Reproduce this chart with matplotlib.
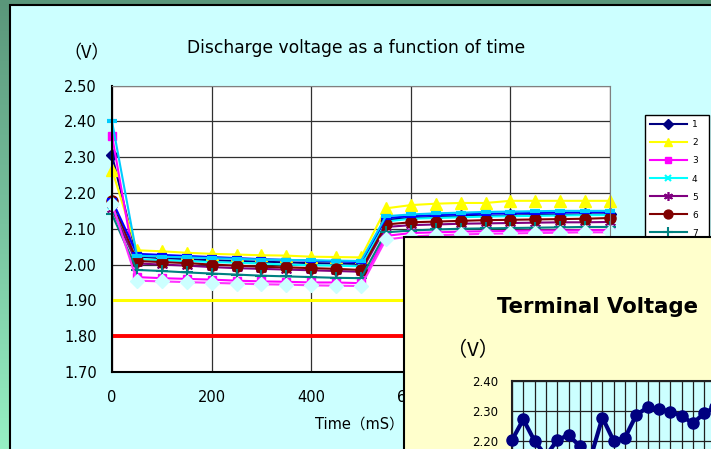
import numpy as np
import matplotlib
matplotlib.use('Agg')
import matplotlib.pyplot as plt
from matplotlib.patches import Rectangle
from matplotlib.colors import LinearSegmentedColormap

W, H = 711, 449
plt.rcParams['font.family'] = ['DejaVu Sans', 'Noto Sans CJK JP']
CJK = ['Noto Sans CJK JP', 'DejaVu Sans']

# ---------------- data ----------------
time_ms = [0, 50, 100, 150, 200, 250, 300, 350, 400, 450, 500,
           550, 600, 650, 700, 750, 800, 850, 900, 950, 1000]

s1 = [2.305, 2.022, 2.018, 2.015, 2.012, 2.010, 2.008, 2.006, 2.004, 2.003, 2.002,
      2.125, 2.130, 2.133, 2.135, 2.136, 2.137, 2.138, 2.139, 2.140, 2.140]
s2 = [2.265, 2.040, 2.037, 2.033, 2.030, 2.028, 2.026, 2.025, 2.022, 2.021, 2.020,
      2.157, 2.166, 2.170, 2.172, 2.172, 2.178, 2.178, 2.178, 2.178, 2.178]
s3 = [2.360, 1.965, 1.962, 1.960, 1.958, 1.955, 1.953, 1.952, 1.950, 1.950, 1.948,
      2.080, 2.088, 2.090, 2.092, 2.093, 2.094, 2.095, 2.095, 2.096, 2.096]
s4 = [2.165, 2.015, 2.012, 2.010, 2.007, 2.005, 2.003, 2.000, 1.998, 1.997, 1.995,
      2.120, 2.128, 2.130, 2.132, 2.134, 2.135, 2.136, 2.137, 2.138, 2.138]
s5 = [2.155, 2.003, 2.000, 1.997, 1.993, 1.990, 1.988, 1.986, 1.984, 1.982, 1.980,
      2.105, 2.110, 2.112, 2.114, 2.115, 2.116, 2.117, 2.118, 2.118, 2.119]
s6 = [2.178, 2.010, 2.007, 2.004, 2.000, 1.997, 1.994, 1.992, 1.990, 1.988, 1.985,
      2.112, 2.118, 2.120, 2.122, 2.124, 2.125, 2.126, 2.127, 2.128, 2.130]
s7 = [2.140, 1.985, 1.982, 1.978, 1.975, 1.972, 1.969, 1.967, 1.965, 1.963, 1.962,
      2.090, 2.095, 2.098, 2.100, 2.101, 2.102, 2.103, 2.104, 2.105, 2.105]
s8 = [2.180, 2.030, 2.027, 2.024, 2.021, 2.018, 2.015, 2.013, 2.011, 2.009, 2.007,
      2.130, 2.135, 2.138, 2.140, 2.142, 2.143, 2.144, 2.145, 2.146, 2.146]
s9 = [2.400, 2.025, 2.022, 2.020, 2.018, 2.016, 2.014, 2.013, 2.012, 2.011, 2.010,
      2.135, 2.140, 2.143, 2.145, 2.147, 2.148, 2.149, 2.150, 2.150, 2.150]
s10 = [2.170, 1.955, 1.953, 1.951, 1.949, 1.947, 1.945, 1.944, 1.942, 1.941, 1.940,
       2.070, 2.078, 2.082, 2.084, 2.086, 2.087, 2.088, 2.089, 2.090, 2.090]
series_values = [s1, s2, s3, s4, s5, s6, s7, s8, s9, s10]
series_labels = ['1', '2', '3', '4', '5', '6', '7', '8', '9', '10']
limit_values = [1.90, 1.80]

y_ticks = [1.70, 1.80, 1.90, 2.00, 2.10, 2.20, 2.30, 2.40, 2.50]
x_ticks = [0, 200, 400, 600, 800, 1000]

inset_categories = [1, 2, 3, 4, 5, 6, 7, 8, 9, 10, 11, 12, 13, 14, 15, 16, 17, 18, 19]
inset_values = [2.203, 2.272, 2.200, 2.150, 2.203, 2.220, 2.183, 2.150, 2.278, 2.200,
                2.211, 2.287, 2.312, 2.306, 2.298, 2.284, 2.259, 2.292, 2.314]
inset_yticks = [2.20, 2.30, 2.40]
inset_grid_y = [2.00, 2.10, 2.20, 2.30, 2.40]

# ---------------- styles ----------------
styles = [
    dict(color='#000080', marker='D', ms=6),
    dict(color='#FFFF00', marker='^', ms=8),
    dict(color='#FF00FF', marker='s', ms=6),
    dict(color='#00FFFF', marker='x', ms=6, mew=1.5),
    dict(color='#800080', marker=(6, 2, 0), ms=8, mew=1.2),
    dict(color='#800000', marker='o', ms=8),
    dict(color='#008080', marker='+', ms=9, mew=1.5),
    dict(color='#0000FF', marker='_', ms=7, mew=3),
    dict(color='#00CCFF', marker='_', ms=7, mew=3),
    dict(color='#FF33FF', marker='D', ms=7, mfc='#CCFFFF', mec='#CCFFFF'),
]


def frac(l, t, r, b):
    return [l / W, 1 - b / H, (r - l) / W, (b - t) / H]


fig = plt.figure(figsize=(W / 100, H / 100), dpi=100)

# background gradient + chart area
bg = fig.add_axes([0, 0, 1, 1], zorder=0)
bg.set_xlim(0, W)
bg.set_ylim(H, 0)
bg.axis('off')
cmap = LinearSegmentedColormap.from_list('g', ['#5A967A', '#96F0C4'])
grad = np.linspace(0, 1, 256).reshape(-1, 1)
bg.imshow(grad, cmap=cmap, extent=[0, W, H, 0], aspect='auto')
bg.add_patch(Rectangle((9.5, 5), 800, 600, facecolor='#CCFFFF', edgecolor='black', lw=1.5))
bg.text(356, 48, 'Discharge voltage as a function of time', ha='center', va='center',
        fontsize=12.3, color='black')
bg.text(87, 53, '（V）', ha='center', va='center', fontsize=13, color='black', family=CJK)
bg.text(359, 424, 'Time（mS）', ha='center', va='center', fontsize=10.5, color='black')

# main axes
ax = fig.add_axes(frac(112, 85.5, 610, 372), zorder=1)
ax.set_facecolor('white')
lines = []
for vals, lab, st in zip(series_values, series_labels, styles):
    st = dict(st)
    mfc = st.pop('mfc', st['color'])
    mec = st.pop('mec', st['color'])
    ln, = ax.plot(time_ms, vals, lw=1.5, label=lab, mfc=mfc, mec=mec, clip_on=False, **st)
    lines.append(ln)
ax.axhline(limit_values[0], color='#FFFF00', lw=2.2, zorder=1.5)
ax.axhline(limit_values[1], color='#FF0000', lw=2.8, zorder=1.5)
ax.set_xlim(0, 1000)
ax.set_ylim(1.70, 2.50)
ax.set_xticks(x_ticks)
ax.set_yticks(y_ticks)
ax.set_yticklabels([f'{v:.2f}' for v in y_ticks])
ax.grid(True, color='#303030', lw=0.9)
ax.set_axisbelow(True)
ax.tick_params(length=0, labelsize=10.5, pad=11)
ax.tick_params(axis='x', pad=13)
for s in ['top', 'right']:
    ax.spines[s].set_color('#808080')
for s in ['left', 'bottom']:
    ax.spines[s].set_color('black')
    ax.spines[s].set_linewidth(1.5)

leg = ax.legend(handles=lines, labels=series_labels, loc='upper left',
                bbox_to_anchor=(645 / W, 1 - 115 / H), bbox_transform=fig.transFigure,
                borderaxespad=0, fontsize=6.5, frameon=True, fancybox=False,
                edgecolor='black', framealpha=1, handlelength=4.0, handletextpad=0.6,
                labelspacing=1.0, borderpad=0.6, markerscale=0.8)
leg.get_frame().set_linewidth(1.0)

# inset panel
ov = fig.add_axes([0, 0, 1, 1], zorder=2)
ov.set_xlim(0, W)
ov.set_ylim(H, 0)
ov.axis('off')
ov.add_patch(Rectangle((404, 237), 500, 400, facecolor='#FFFFCC', edgecolor='black', lw=1.5))
ov.text(497, 307, 'Terminal Voltage', ha='left', va='center', fontsize=15.3,
        fontweight='bold', color='black')
ov.text(473, 351, '（V）', ha='center', va='center', fontsize=14.5, color='black', family=CJK)

spacing = 11.3
nx = 39
ia = fig.add_axes(frac(512, 381, 512 + spacing * nx, 381 + 300 * 0.4), zorder=3)
ia.set_facecolor('#CCFFFF')
ia.plot(inset_categories, inset_values, color='#000080', lw=3, marker='o', ms=8,
        clip_on=False, zorder=3)
ia.set_xlim(1, 1 + nx)
ia.set_ylim(2.00, 2.40)
ia.set_yticks(inset_grid_y)
ia.set_yticklabels([f'{v:.2f}' if v in inset_yticks else '' for v in inset_grid_y])
ia.set_xticks(list(range(1, 1 + nx)))
ia.set_xticklabels([])
ia.grid(True, color='#202020', lw=0.9)
ia.set_axisbelow(True)
ia.tick_params(length=0, labelsize=8.5, pad=10)
for s in ia.spines.values():
    s.set_color('#202020')
    s.set_linewidth(1.5)

fig.savefig('out.png', dpi=100)
